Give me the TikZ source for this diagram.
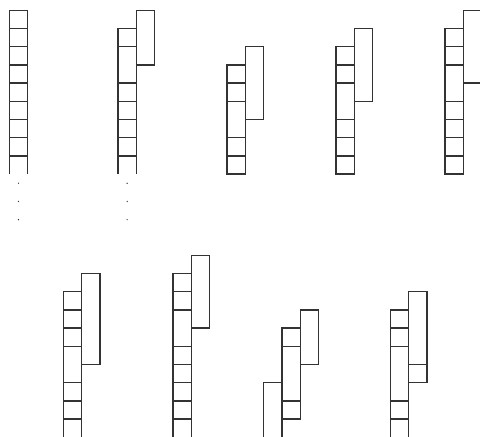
\documentclass[tikz,border=0pt]{standalone}
\usepackage{tikz}

\begin{document}
\begin{tikzpicture}[x=18.3pt,y=-18.2pt,bar/.style={draw=black!80,line width=1.3pt},dot/.style={fill=black!80}]
\useasboundingbox (0pt,0pt) rectangle (480pt,-437pt);
\clip (0pt,0pt) rectangle (480pt,-437pt);
% top row
\begin{scope}[shift={(9.3pt,-10.3pt)}]
\draw[bar] (0,9) -- (0,0) -- (1,0) -- (1,9);
\foreach \r in {1,...,8} \draw[bar] (0,\r) -- (1,\r);
\foreach \r in {9.5,10.5,11.5} \fill[dot] (0.5,\r) circle (0.7pt);
\end{scope}
\begin{scope}[shift={(118pt,-10.3pt)}]
\draw[bar] (0,9) -- (0,1) -- (1,1) -- (1,9);
\foreach \r in {2,4,5,6,7,8} \draw[bar] (0,\r) -- (1,\r);
\draw[bar] (1,0) rectangle (2,3);
\foreach \r in {9.5,10.5,11.5} \fill[dot] (0.5,\r) circle (0.7pt);
\end{scope}
\begin{scope}[shift={(227pt,-10.3pt)}]
\draw[bar] (0,3) rectangle (1,9);
\foreach \r in {4,5,7,8} \draw[bar] (0,\r) -- (1,\r);
\draw[bar] (1,2) rectangle (2,6);
\end{scope}
\begin{scope}[shift={(336pt,-10.3pt)}]
\draw[bar] (0,2) rectangle (1,9);
\foreach \r in {3,4,6,7,8} \draw[bar] (0,\r) -- (1,\r);
\draw[bar] (1,1) rectangle (2,5);
\end{scope}
\begin{scope}[shift={(445pt,-10.3pt)}]
\draw[bar] (0,1) rectangle (1,9);
\foreach \r in {2,3,5,6,7,8} \draw[bar] (0,\r) -- (1,\r);
\draw[bar] (1,0) rectangle (2,4);
\end{scope}
% bottom row
\begin{scope}[shift={(63.3pt,-255.3pt)}]
\draw[bar] (0,10.2) -- (0,2) -- (1,2) -- (1,10.2);
\foreach \r in {3,4,5,7,8,9} \draw[bar] (0,\r) -- (1,\r);
\draw[bar] (1,1) rectangle (2,6);
\end{scope}
\begin{scope}[shift={(173pt,-255.3pt)}]
\draw[bar] (0,10.2) -- (0,1) -- (1,1) -- (1,10.2);
\foreach \r in {2,3,5,6,7,8,9} \draw[bar] (0,\r) -- (1,\r);
\draw[bar] (1,0) rectangle (2,4);
\end{scope}
\begin{scope}[shift={(282pt,-255.3pt)}]
\draw[bar] (-1,10.2) -- (-1,7) -- (0,7);
\draw[bar] (0,10.2) -- (0,4) -- (1,4) -- (1,9) -- (0,9);
\foreach \r in {5,8} \draw[bar] (0,\r) -- (1,\r);
\draw[bar] (1,3) rectangle (2,6);
\end{scope}
\begin{scope}[shift={(390.3pt,-255.3pt)}]
\draw[bar] (0,10.2) -- (0,3) -- (1,3) -- (1,10.2);
\foreach \r in {4,5,8,9} \draw[bar] (0,\r) -- (1,\r);
\draw[bar] (1,2) rectangle (2,7);
\draw[bar] (1,6) -- (2,6);
\end{scope}
\end{tikzpicture}
\end{document}
